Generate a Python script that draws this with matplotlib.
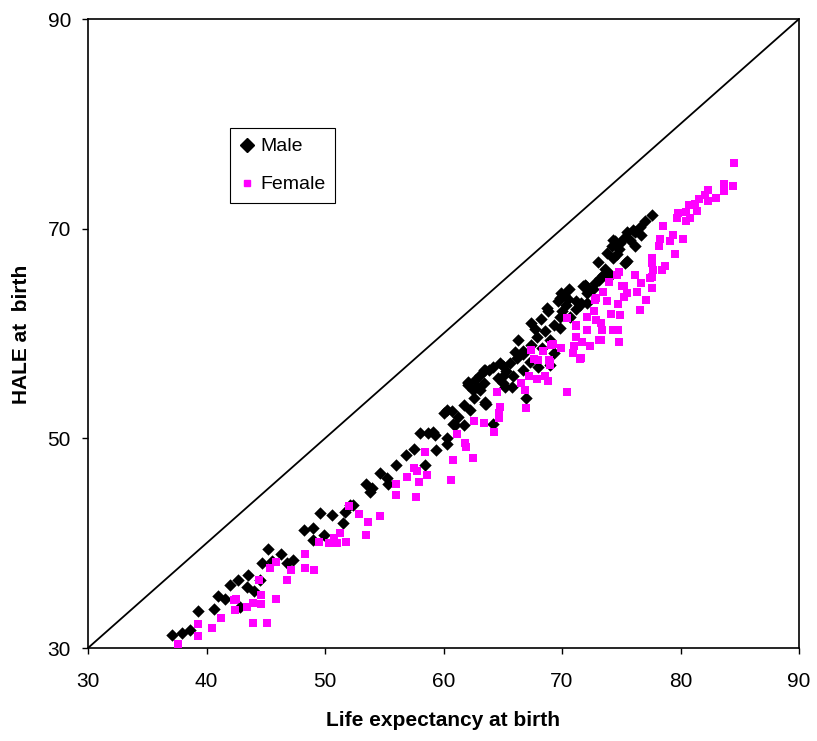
import matplotlib
matplotlib.use("Agg")
import matplotlib.pyplot as plt
from matplotlib.lines import Line2D

plt.rcParams['font.family'] = ['Liberation Sans', 'DejaVu Sans']

# Male: (life expectancy, HALE)
male_le = [37.1, 37.9, 38.6, 39.3, 40.6, 41.6, 42.0, 42.7, 43.4, 44.0, 42.8, 44.5, 44.7, 45.2, 46.3,
           47.3, 46.8, 48.2, 49.0, 49.6, 50.6, 49.9, 49.0, 51.5, 52.1, 51.7, 53.5, 41.0, 43.5, 45.5,
           52.4, 53.8, 54.6, 55.2, 55.3, 56.0, 58.4, 58.0, 58.7, 59.3, 59.4, 60.0, 60.3, 60.3, 60.8,
           61.7, 61.7, 62.2, 62.1, 63.1, 63.5, 64.2, 65.2, 60.7,
           62.1, 63.4, 64.2, 64.8, 65.0, 65.8, 65.3, 66.3, 66.7, 67.4, 67.0, 63.6, 68.0, 68.8, 69.0,
           69.8, 70.3, 71.8, 70.7, 71.2, 73.5, 69.3,
           77.6, 77.0, 76.6, 76.2, 75.5, 75.2, 75.7, 74.3, 74.2, 74.8, 73.8, 74.3, 75.3, 76.2, 73.6,
           74.1, 73.2, 71.9, 72.6, 72.1, 71.6,
           69.9, 70.5, 69.7, 71.5, 69.8, 69.3, 68.6, 67.9, 69.8, 67.4, 66.7, 66.2, 65.6, 65.0, 63.5,
           62.7, 63.4, 62.5, 66.7, 65.9, 65.0, 67.3, 69.0, 68.3,
           76.0, 74.5, 74.6, 75.5, 73.8, 73.1, 72.0, 70.6, 70.2, 68.7, 71.2, 72.1,
           63.8, 63.1, 62.1, 62.8, 63.5, 60.3, 61.0, 59.1, 56.8, 57.5, 54.0,
           61.2, 62.6, 64.6, 66.0, 67.7, 68.2, 70.0, 72.8, 73.0, 74.9, 76.7]
male_hale = [31.2, 31.4, 31.7, 33.5, 33.7, 34.7, 36.0, 36.5, 35.8, 35.4, 33.9, 36.5, 38.1, 39.4, 39.0,
             38.4, 38.1, 41.3, 41.4, 42.9, 42.7, 40.8, 40.3, 41.9, 43.6, 43.0, 45.6, 35.0, 37.0, 38.3,
             43.6, 44.9, 46.7, 46.2, 45.6, 47.5, 47.5, 50.5, 50.5, 50.3, 48.9, 52.4, 50.0, 49.5, 51.4,
             51.3, 53.2, 52.7, 55.1, 54.6, 53.3, 51.4, 54.9, 52.6,
             55.3, 56.5, 56.8, 57.2, 55.9, 54.9, 56.4, 59.4, 58.0, 61.0, 53.8, 53.3, 56.8, 62.1, 59.4,
             63.4, 62.7, 64.5, 61.6, 62.3, 65.6, 58.1,
             71.3, 70.7, 70.2, 69.7, 69.7, 69.1, 68.9, 68.9, 68.3, 68.1, 67.7, 67.2, 66.7, 68.3, 66.2,
             65.6, 65.3, 64.6, 64.2, 63.9, 62.9,
             63.9, 63.3, 63.1, 62.7, 61.6, 60.8, 60.2, 59.7, 60.5, 58.9, 58.3, 57.7, 57.2, 56.9, 56.5,
             55.6, 55.3, 54.6, 56.5, 55.9, 55.3, 57.3, 57.0, 58.6,
             69.9, 68.8, 67.6, 66.9, 65.9, 65.1, 64.5, 64.2, 63.7, 62.4, 63.1, 62.9,
             56.5, 56.0, 55.4, 54.9, 53.5, 52.7, 51.3, 50.6, 48.4, 49.0, 45.3,
             52.0, 53.8, 55.8, 58.2, 60.4, 61.4, 62.1, 64.8, 66.8, 68.6, 69.4]

# Female: (life expectancy, HALE)
female_le = [37.6, 39.3, 39.3, 40.5, 41.2, 42.4, 42.3, 42.5, 43.4, 43.9, 44.6, 44.6, 43.9, 45.1, 45.9,
             44.4, 45.4, 45.9, 47.1, 46.8, 48.3, 48.3, 49.1, 49.5, 50.3, 51.0, 50.8, 51.3, 51.8, 52.0,
             52.9, 53.6, 53.5,
             54.6, 56.0, 56.0, 56.9, 57.5, 57.8, 57.9, 58.6, 57.7, 58.4, 60.6, 60.8, 61.1, 61.8, 61.9,
             62.5, 62.6, 63.4, 64.3, 64.5, 64.8, 64.7, 64.7,
             67.0, 66.9, 66.5, 67.2, 67.9, 68.6, 68.8, 70.4, 67.4, 67.6, 68.0, 68.4, 68.9, 69.0, 69.2,
             69.9, 70.4, 70.9, 71.0, 71.6, 71.2, 71.2, 71.7, 72.4, 72.1, 72.9, 73.3, 72.1, 72.7, 72.9,
             73.5, 73.8, 74.1, 74.3, 74.7, 74.9, 74.8, 73.3, 73.4, 74.0, 74.6, 75.1, 75.2, 76.2, 76.3,
             76.7, 77.1, 76.6, 77.6, 77.6,
             84.5, 84.4, 83.7, 83.7, 83.0, 82.3, 82.1, 82.3, 81.6, 81.2, 80.7, 81.4, 80.8, 80.5, 80.5,
             79.8, 79.7, 78.5, 79.4, 79.1, 80.2, 78.3, 78.2, 79.5, 77.6, 77.6, 78.7, 77.7, 78.4, 77.4,
             74.8, 75.2, 75.5, 74.7,
             71.2, 69.1, 69.0, 72.8, 73.1, 71.5]
female_hale = [30.4, 31.1, 32.3, 31.9, 32.9, 33.6, 34.6, 34.7, 33.9, 34.3, 35.1, 34.2, 32.4, 32.4, 34.7,
               36.5, 37.6, 38.2, 37.4, 36.5, 39.0, 37.6, 37.4, 40.1, 40.0, 40.0, 40.5, 41.0, 40.1, 43.5,
               42.8, 42.0, 40.8,
               42.6, 45.6, 44.6, 46.3, 47.2, 46.9, 45.8, 46.5, 44.4, 48.7, 46.0, 47.9, 50.4, 49.6, 49.2,
               48.1, 51.7, 51.5, 50.6, 54.4, 53.0, 52.4, 51.9,
               52.9, 54.6, 55.3, 55.9, 55.7, 55.9, 55.5, 54.4, 58.4, 57.6, 57.5, 58.3, 57.5, 57.0, 59.0,
               58.6, 61.5, 58.1, 58.8, 57.7, 59.7, 60.7, 59.2, 58.8, 60.3, 61.3, 61.0, 61.6, 62.1, 63.4,
               64.0, 63.1, 61.9, 60.3, 60.3, 61.8, 59.2, 59.4, 60.3, 64.9, 65.6, 64.5, 63.5, 65.6, 64.0,
               64.8, 63.2, 62.2, 64.3, 65.4,
               76.3, 74.1, 74.3, 73.6, 72.9, 73.7, 73.2, 72.6, 72.8, 72.4, 72.3, 71.7, 71.0, 71.6, 70.7,
               71.5, 71.0, 70.3, 69.4, 68.8, 69.0, 69.0, 68.3, 67.6, 67.2, 66.7, 66.4, 66.1, 66.1, 65.3,
               65.9, 64.5, 63.9, 62.8,
               60.8, 58.9, 57.3, 63.2, 59.4, 57.6]

x_ticks = [30, 40, 50, 60, 70, 80, 90]
y_ticks = [30, 50, 70, 90]

fig = plt.figure(figsize=(8.17, 7.41), dpi=100)
ax = fig.add_axes([88/817, 1-648/741, 711/817, 629/741])

ax.plot([30, 90], [30, 90], color='black', lw=1.3, zorder=1)
ax.scatter(male_le, male_hale, marker='D', s=40, color='black', linewidths=0, zorder=2, label='Male')
ax.scatter(female_le, female_hale, marker='s', s=36, color='#FF00FF', linewidths=0, zorder=3, label='Female')

ax.set_xlim(30, 90)
ax.set_ylim(30, 90)
ax.set_xticks(x_ticks)
ax.set_yticks(y_ticks)
ax.tick_params(direction='out', length=4.3, width=1, labelsize=15)
ax.tick_params(axis='x', pad=13)
ax.tick_params(axis='y', pad=8)
for sp in ax.spines.values():
    sp.set_linewidth(1.2)

ax.set_xlabel('Life expectancy at birth', fontsize=15, fontweight='bold', va='center')
ax.xaxis.set_label_coords(0.5, (648-720)/629)
ax.set_ylabel('HALE at  birth', fontsize=15, fontweight='bold', va='center')
ax.yaxis.set_label_coords((22-88)/711, (648-334)/629)

handles = [Line2D([], [], marker='D', color='black', ls='none', markersize=7),
           Line2D([], [], marker='s', color='#FF00FF', ls='none', markersize=5)]
leg = ax.legend(handles, ['Male', 'Female'], loc='upper left',
                bbox_to_anchor=((230-88)/711, (648-128)/629), fontsize=14,
                frameon=True, fancybox=False, edgecolor='black', framealpha=1,
                handlelength=0.75, handletextpad=0.3, borderpad=0.5, labelspacing=1.05,
                borderaxespad=0)
leg.get_frame().set_linewidth(0.8)

fig.savefig('out.png', dpi=100)
